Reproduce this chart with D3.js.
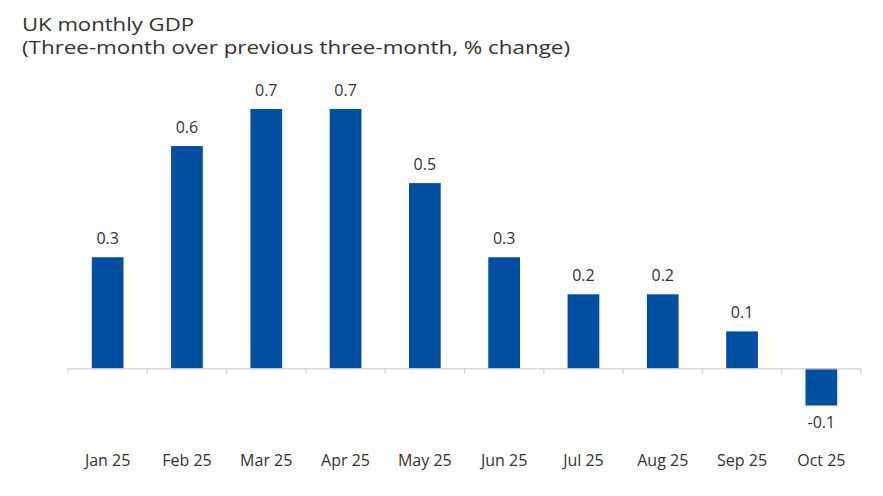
<!DOCTYPE html>
<html><head><meta charset="utf-8">
<script src="https://cdn.jsdelivr.net/npm/d3@7"></script>
<style>body{margin:0;background:#fff;}svg{display:block;font-family:"Open Sans",sans-serif;}</style>
</head><body>
<svg id="c" width="883" height="496"></svg>
<script>
const categories = ["Jan 25","Feb 25","Mar 25","Apr 25","May 25","Jun 25","Jul 25","Aug 25","Sep 25","Oct 25"];
const values = [0.3,0.6,0.7,0.7,0.5,0.3,0.2,0.2,0.1,-0.1];
const titleLines = ["UK monthly GDP","(Three-month over previous three-month, % change)"];
const titleWidths = [172,548];

const svg = d3.select("#c");
const x = d3.scaleBand().domain(categories).range([68,861]).paddingInner(0.6).paddingOuter(0.3);
const y = d3.scaleLinear().domain([-0.1,0.7]).range([405.5,109]);

svg.selectAll("text.title").data(titleLines).join("text")
  .attr("x",22).attr("y",(d,i)=>31+i*23)
  .attr("font-size",19).attr("fill","#333")
  .attr("textLength",(d,i)=>titleWidths[i]).attr("lengthAdjust","spacingAndGlyphs")
  .text(d=>d);

svg.selectAll("rect.bar").data(values).join("rect")
  .attr("x",(d,i)=>x(categories[i]))
  .attr("width",x.bandwidth())
  .attr("y",d=>y(Math.max(0,d)))
  .attr("height",d=>Math.abs(y(d)-y(0)))
  .attr("fill","#004FA3");

const g = svg.append("g");
g.append("line").attr("x1",68).attr("x2",861).attr("y1",y(0)+0.5).attr("y2",y(0)+0.5)
  .attr("stroke","#d0d0d0").attr("stroke-width",1.2);
const bounds = d3.range(categories.length+1).map(i=>68 + i*x.step());
g.selectAll("line.t").data(bounds).join("line")
  .attr("x1",d=>d).attr("x2",d=>d).attr("y1",y(0)).attr("y2",y(0)+5)
  .attr("stroke","#d0d0d0").attr("stroke-width",1.2);

svg.selectAll("text.val").data(values).join("text")
  .attr("x",(d,i)=>x(categories[i])+x.bandwidth()/2)
  .attr("y",d=>d>=0 ? y(d)-13 : y(d)+22)
  .attr("text-anchor","middle").attr("font-size",16).attr("fill","#333")
  .text(d=>d.toFixed(1));

svg.selectAll("text.cat").data(categories).join("text")
  .attr("x",d=>x(d)+x.bandwidth()/2).attr("y",466)
  .attr("text-anchor","middle").attr("font-size",16).attr("fill","#333")
  .text(d=>d);
</script>
</body></html>
